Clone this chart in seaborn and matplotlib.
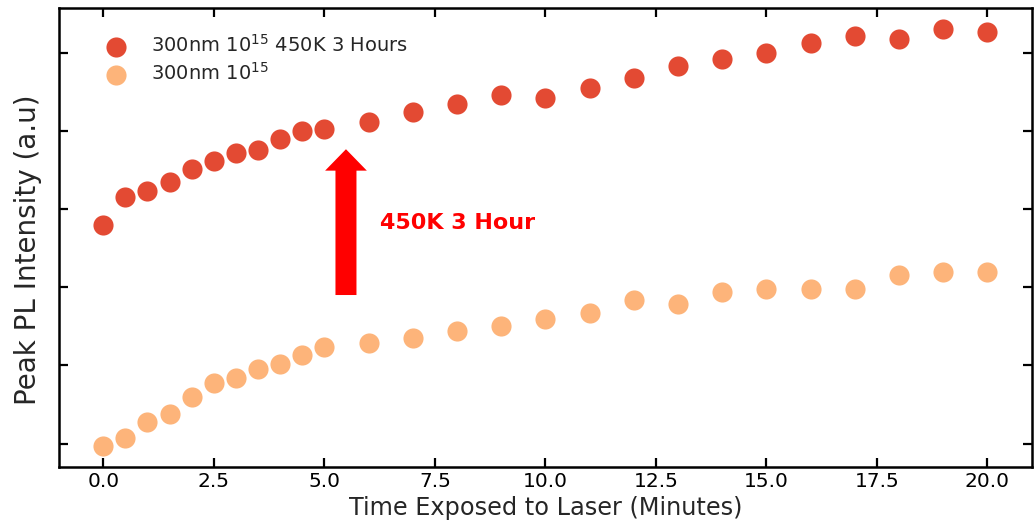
import matplotlib
matplotlib.use('Agg')
import matplotlib.pyplot as plt
import seaborn as sns
import pandas as pd

# time points (minutes)
minutes = [0, 0.5, 1, 1.5, 2, 2.5, 3, 3.5, 4, 4.5, 5,
           6, 7, 8, 9, 10, 11, 12, 13, 14, 15, 16, 17, 18, 19, 20]

# peak PL intensity, arbitrary units
annealed = [2.80, 3.16, 3.23, 3.34, 3.51, 3.62, 3.72, 3.76, 3.89, 4.00, 4.03,
            4.11, 4.24, 4.34, 4.46, 4.42, 4.55, 4.68, 4.83, 4.92, 5.00, 5.12,
            5.21, 5.17, 5.30, 5.27]
as_implanted = [-0.03, 0.07, 0.27, 0.38, 0.59, 0.77, 0.84, 0.96, 1.02, 1.13, 1.23,
                1.28, 1.35, 1.44, 1.50, 1.59, 1.67, 1.83, 1.78, 1.94, 1.98, 1.98,
                1.98, 2.15, 2.20, 2.20]

labels = ['300nm 10$^{15}$ 450K 3 Hours', '300nm 10$^{15}$']
colors = ['#e34a33', '#fdb47a']
x_ticks = [0, 2.5, 5, 7.5, 10, 12.5, 15, 17.5, 20]
y_ticks = [0, 1, 2, 3, 4, 5]

df = pd.DataFrame({'minutes': minutes, 'annealed': annealed, 'implanted': as_implanted})

sns.set_style('ticks')
plt.rcParams['font.family'] = ['DejaVu Sans']

fig, ax = plt.subplots(figsize=(10.36, 5.25), dpi=100)
fig.subplots_adjust(left=0.057, right=0.9958, top=0.984, bottom=0.111)

sns.scatterplot(data=df, x='minutes', y='annealed', color=colors[0], s=210,
                linewidth=0, label=labels[0], ax=ax, legend=False)
sns.scatterplot(data=df, x='minutes', y='implanted', color=colors[1], s=210,
                linewidth=0, label=labels[1], ax=ax, legend=False)

# red arrow + note
ax.arrow(5.49, 1.90, 0, 1.865, width=0.475, head_width=0.944, head_length=0.274,
         length_includes_head=True, color='#ff0000', linewidth=0)
ax.text(6.26, 2.82, '450K 3 Hour', color='#ff0000', fontsize=16,
        fontweight='bold', ha='left', va='center')

ax.set_xticks(x_ticks)
ax.set_yticks(y_ticks)
ax.set_yticklabels([])
ax.tick_params(direction='in', top=True, right=True, length=6.5, width=1.6,
               labelsize=14.5, pad=4, colors='black')
for sp in ax.spines.values():
    sp.set_linewidth(1.8)
    sp.set_color('black')

ax.set_xlabel('Time Exposed to Laser (Minutes)', fontsize=17.3, labelpad=3.5)
ax.set_ylabel('Peak PL Intensity (a.u)', fontsize=20)
ax.yaxis.set_label_coords(-0.018, 0.473)

ax.legend(loc='upper left', bbox_to_anchor=(0.021, 0.982), frameon=False,
          fontsize=14, labelspacing=0.3, handletextpad=0.8)

fig.savefig('out.png', dpi=100)
